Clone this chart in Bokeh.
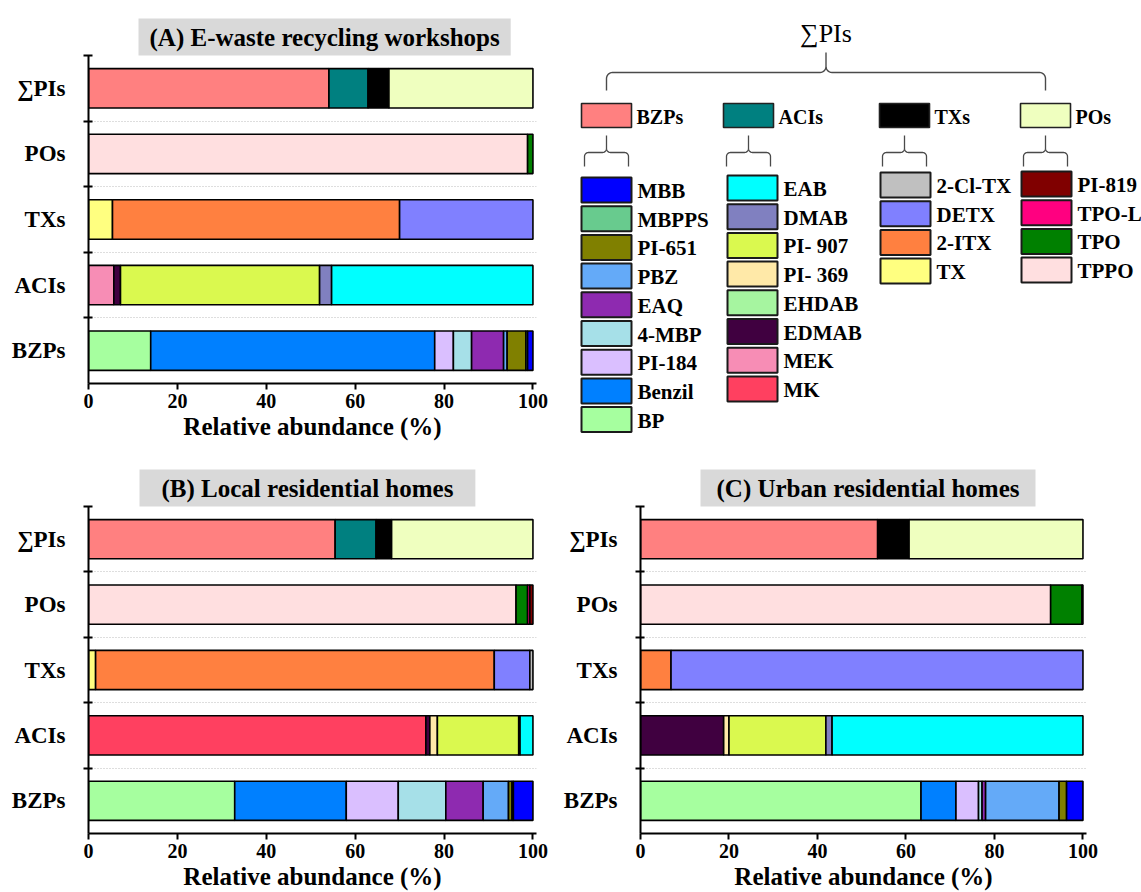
import numpy as np
from bokeh.plotting import figure
from bokeh.layouts import column, row
from bokeh.models import Range1d, FixedTicker, ColumnDataSource
from bokeh.core.properties import value
from bokeh.embed import file_html
from bokeh.resources import INLINE

FONT = "Liberation Serif"

# ---------------------------------------------------------------- categories
row_labels = ["BZPs", "ACIs", "TXs", "POs", "∑PIs"]          # bottom -> top

group_names = ["BZPs", "ACIs", "TXs", "POs"]
group_colors = ["#ff8080", "#008080", "#000000", "#efffbf"]

bzp_names = ["BP", "Benzil", "PI-184", "4-MBP", "EAQ", "PBZ", "PI-651", "MBPPS", "MBB"]
bzp_colors = ["#a6ff9f", "#0080ff", "#dabfff", "#a6e0e8", "#8e2ab0", "#64aaf8",
              "#808000", "#68cb8e", "#0000ff"]

aci_names = ["MK", "MEK", "EDMAB", "EHDAB", "PI- 369", "PI- 907", "DMAB", "EAB"]
aci_colors = ["#ff4060", "#f78db5", "#400040", "#a6f5a0", "#ffe9a8", "#daf94f",
              "#8080c0", "#00ffff"]

tx_names = ["TX", "2-ITX", "DETX", "2-Cl-TX"]
tx_colors = ["#ffff80", "#ff8040", "#8080ff", "#c0c0c0"]

po_names = ["TPPO", "TPO", "TPO-L", "PI-819"]
po_colors = ["#ffdfe0", "#008000", "#ff0080", "#800000"]

# ---------------------------------------------------------------- values (%)
# (A) E-waste recycling workshops
a_bzp = [14.0, 63.9, 4.2, 4.1, 7.2, 0.8, 4.2, 0.4, 1.2]
a_aci = [0.0, 5.7, 1.5, 0.0, 0.0, 44.8, 2.7, 45.3]
a_tx = [5.4, 64.6, 30.0, 0.0]
a_po = [98.8, 1.2, 0.0, 0.0]
a_sum = [54.1, 8.8, 4.7, 32.4]

# (B) Local residential homes
b_bzp = [32.9, 25.1, 11.7, 10.7, 8.4, 5.7, 0.8, 0.3, 4.4]
b_aci = [75.9, 0.0, 0.9, 0.0, 1.7, 18.3, 0.3, 2.9]
b_tx = [1.6, 89.7, 8.0, 0.7]
b_po = [96.2, 2.6, 0.5, 0.7]
b_sum = [55.5, 9.2, 3.5, 31.8]

# (C) Urban residential homes
c_bzp = [63.4, 7.9, 5.1, 0.8, 0.8, 16.6, 1.7, 0.0, 3.7]
c_aci = [0.0, 0.0, 18.8, 0.0, 1.2, 21.9, 1.4, 56.7]
c_tx = [0.0, 6.9, 93.1, 0.0]
c_po = [92.7, 7.1, 0.0, 0.2]
c_sum = [53.6, 0.0, 7.1, 39.3]

x_ticks = [0, 20, 40, 60, 80, 100]


def stacked_row(p, ypos, names, vals, cols):
    keep = [(n, v, c) for n, v, c in zip(names, vals, cols) if v > 0]
    data = {"y": [ypos]}
    for n, v, _ in keep:
        data[n] = [v]
    p.hbar_stack([k[0] for k in keep], y="y", height=0.6,
                 fill_color=[k[2] for k in keep], line_color="black",
                 line_width=1.6, source=ColumnDataSource(data))


def panel(title, parts, width, height, left, right, top, bottom, offset, pad):
    p = figure(width=width, height=height, output_backend="svg",
               toolbar_location=None, x_range=Range1d(0, 100.8),
               y_range=Range1d(-0.5, 4.5),
               min_border_left=left, min_border_right=right,
               min_border_top=top, min_border_bottom=bottom)
    p.outline_line_color = None
    p.background_fill_color = "white"

    p.title.text = title
    p.title.text_font = FONT
    p.title.text_font_style = "bold"
    p.title.text_font_size = "25px"
    p.title.text_color = "black"
    p.title.align = "left"
    p.title.offset = offset
    p.title.background_fill_color = "#d9d9d9"
    p.title.padding = (pad, 5)
    p.title.standoff = 0

    series = [(bzp_names, parts[0], bzp_colors),
              (aci_names, parts[1], aci_colors),
              (tx_names, parts[2], tx_colors),
              (po_names, parts[3], po_colors),
              (group_names, parts[4], group_colors)]
    for i, (names, vals, cols) in enumerate(series):
        stacked_row(p, i, names, vals, cols)

    # y axis: names at the bar centres, small ticks between bars
    yax = p.yaxis[0]
    yax.ticker = FixedTicker(ticks=list(range(len(row_labels))),
                             minor_ticks=[i + 0.5 for i in range(len(row_labels))])
    yax.major_label_overrides = {i: lab for i, lab in enumerate(row_labels)}
    yax.major_tick_in = 0
    yax.major_tick_out = 0
    yax.minor_tick_in = 4
    yax.minor_tick_out = 5
    yax.minor_tick_line_width = 2
    yax.minor_tick_line_color = "black"
    yax.axis_line_width = 2
    yax.major_label_standoff = 18
    yax.major_label_text_font = FONT
    yax.major_label_text_font_style = "bold"
    yax.major_label_text_font_size = "23px"
    yax.major_label_text_color = "black"

    xax = p.xaxis[0]
    xax.ticker = FixedTicker(ticks=x_ticks, minor_ticks=[])
    xax.major_tick_in = 0
    xax.major_tick_out = 6
    xax.major_tick_line_width = 2
    xax.axis_line_width = 2
    xax.major_label_standoff = 4
    xax.major_label_text_font = FONT
    xax.major_label_text_font_style = "bold"
    xax.major_label_text_font_size = "20px"
    xax.major_label_text_color = "black"
    xax.axis_label = "Relative abundance (%)"
    xax.axis_label_standoff = 2
    xax.axis_label_text_font = FONT
    xax.axis_label_text_font_style = "bold"
    xax.axis_label_text_font_size = "25px"
    xax.axis_label_text_color = "black"

    p.xgrid.visible = False
    p.ygrid.ticker = FixedTicker(ticks=[i + 0.5 for i in range(len(row_labels) - 1)])
    p.ygrid.grid_line_color = "#bdbdbd"
    p.ygrid.grid_line_dash = "1 2"
    p.ygrid.grid_line_width = 1
    return p


pa = panel("(A) E-waste recycling workshops", [a_bzp, a_aci, a_tx, a_po, a_sum],
           560, 450, 88, 24, 55, 67, 50, 11)
pb = panel("(B) Local residential homes", [b_bzp, b_aci, b_tx, b_po, b_sum],
           560, 442, 88, 24, 56, 58, 51, 22)
pc = panel("(C) Urban residential homes", [c_bzp, c_aci, c_tx, c_po, c_sum],
           581, 442, 79, 55, 56, 58, 60, 16)

# ---------------------------------------------------------------- hierarchy legend
LW, LH = 581, 450
lg = figure(width=LW, height=LH, output_backend="svg", toolbar_location=None,
            x_range=Range1d(0, LW), y_range=Range1d(LH, 0),
            x_axis_type=None, y_axis_type=None,
            min_border=0, min_border_left=0, min_border_right=0,
            min_border_top=0, min_border_bottom=0)
lg.frame_align = False
lg.outline_line_color = None
lg.xgrid.visible = False
lg.ygrid.visible = False


def brace_points(xl, xr, y_top, y_mid, y_bot, r):
    xc = (xl + xr) / 2.0
    t = np.linspace(0, np.pi / 2, 8)
    xs, ys = [xl], [y_bot]
    a = np.pi + t                                   # left corner
    xs += list(xl + r + r * np.cos(a)); ys += list(y_mid + r + r * np.sin(a))
    a = np.pi / 2 - t                               # into the tip
    xs += list(xc - r + r * np.cos(a)); ys += list(y_mid - r + r * np.sin(a))
    xs += [xc, xc]; ys += [y_top, y_mid - r]
    a = np.pi - t                                   # out of the tip
    xs += list(xc + r + r * np.cos(a)); ys += list(y_mid - r + r * np.sin(a))
    a = 1.5 * np.pi + t                             # right corner
    xs += list(xr - r + r * np.cos(a)); ys += list(y_mid + r + r * np.sin(a))
    xs += [xr]; ys += [y_bot]
    return xs, ys


BRACE = "#4a4a4a"
BOX_W, BOX_H = 50, 24

group_x = [21, 163, 319, 460]
group_centres = [gx + BOX_W / 2 for gx in group_x]

# top label and main brace
lg.text(x=[(group_centres[0] + group_centres[-1]) / 2], y=[33], text=["∑PIs"],
        text_font=value(FONT), text_font_size="26px", text_align="center",
        text_baseline="middle", text_color="black")
bx, by = brace_points(group_centres[0], group_centres[-1], 52, 72, 90, 6)
lg.line(bx, by, line_color=BRACE, line_width=1.4)

# group boxes
GY = 103
lg.quad(left=group_x, right=[g + BOX_W for g in group_x], top=[GY] * 4,
        bottom=[GY + BOX_H] * 4, fill_color=group_colors, line_color="#222222",
        line_width=1.6)
lg.text(x=[g + BOX_W + 5 for g in group_x], y=[GY + BOX_H / 2 + 1] * 4,
        text=group_names, text_font=value(FONT), text_font_style="bold",
        text_font_size="20px", text_baseline="middle", text_color="black")

# compound boxes under each group (top of list = right end of the bars)
members = [(bzp_names, bzp_colors), (aci_names, aci_colors),
           (tx_names, tx_colors), (po_names, po_colors)]
col_x = [21, 167, 320, 461]
col_y0 = [177, 175, 172, 171]
PITCH = 28.7
for gi, (names, cols) in enumerate(members):
    cx = group_centres[gi]
    sx, sy = brace_points(cx - 22, cx + 22, 135, 152, 166, 4)
    lg.line(sx, sy, line_color=BRACE, line_width=1.3)
    order = list(range(len(names)))[::-1]
    tops = [col_y0[gi] + k * PITCH for k in range(len(names))]
    lg.quad(left=[col_x[gi]] * len(names), right=[col_x[gi] + BOX_W] * len(names),
            top=tops, bottom=[t + 25 for t in tops],
            fill_color=[cols[i] for i in order], line_color="#1a1a1a",
            line_width=2)
    lg.text(x=[col_x[gi] + BOX_W + 6] * len(names), y=[t + 13.5 for t in tops],
            text=[names[i] for i in order], text_font=value(FONT),
            text_font_style="bold", text_font_size="21px",
            text_baseline="middle", text_color="black")

layout = column(row(pa, lg), row(pb, pc))
open("out.html", "w").write(file_html(layout, INLINE))
